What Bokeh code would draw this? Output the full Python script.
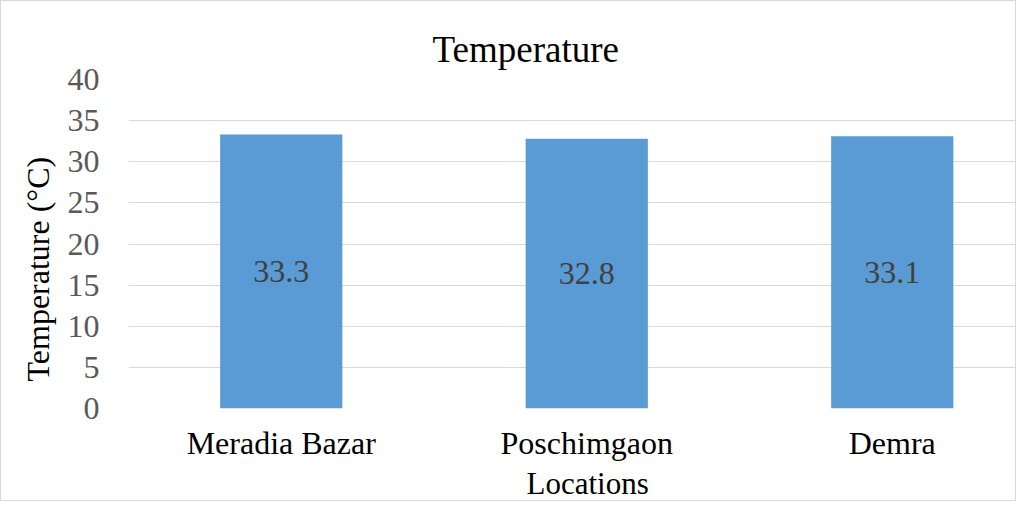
from bokeh.plotting import figure
from bokeh.models import Range1d, FixedTicker, Title
from bokeh.embed import file_html
from bokeh.resources import INLINE
from bokeh.core.properties import value
import numpy as np

locations = ["Meradia Bazar", "Poschimgaon", "Demra"]
temperatures = [33.3, 32.8, 33.1]
y_ticks = [0, 5, 10, 15, 20, 25, 30, 35, 40]
chart_title = "Temperature"
x_title = "Locations"
y_title = "Temperature (°C)"

FONT = "Liberation Serif"
xs = list(np.arange(len(locations)) + 0.5)

p = figure(width=1016, height=501, output_backend="svg", toolbar_location=None,
           x_range=Range1d(0, 889 / 305.5), y_range=Range1d(0, 40),
           min_border_left=127, min_border_right=0, min_border_top=78, min_border_bottom=94)
p.outline_line_color = None
p.background_fill_color = "white"
p.border_fill_color = "white"
p.styles = {"border": "1px solid #d9d9d9"}

p.title.text = chart_title
p.title.text_font = FONT
p.title.text_font_size = "37px"
p.title.text_font_style = "normal"
p.title.text_color = "#000000"
p.title.align = "left"
p.title.offset = 304
p.title.standoff = 19

p.vbar(x=xs, top=temperatures, width=0.4, color="#5B9BD5", line_color=None)
p.text(x=xs, y=[t / 2 for t in temperatures], text=[f"{t:.1f}" for t in temperatures],
       text_font=value(FONT), text_font_size="32px", text_color="#404040",
       text_align="center", text_baseline="middle")

p.xgrid.grid_line_color = None
p.ygrid.grid_line_color = "#d9d9d9"
p.ygrid.grid_line_width = 1
p.yaxis.ticker = FixedTicker(ticks=y_ticks)
p.xaxis.ticker = FixedTicker(ticks=xs)
p.xaxis.major_label_overrides = {x: lab for x, lab in zip(xs, locations)}

for ax in (p.xaxis, p.yaxis):
    ax.axis_line_color = None
    ax.major_tick_line_color = None
    ax.minor_tick_line_color = None
    ax.major_label_text_font = FONT
    ax.major_label_text_font_size = "32px"
p.yaxis.major_label_text_color = "#595959"
p.yaxis.major_label_standoff = 23
p.xaxis.major_label_text_color = "#000000"
p.xaxis.major_label_standoff = 10

xt = Title(text=x_title, text_font=FONT, text_font_size="31px", text_font_style="normal",
           text_color="#000000", align="left", offset=398, standoff=0)
p.add_layout(xt, "below")
yt = Title(text=y_title, text_font=FONT, text_font_size="32px", text_font_style="normal",
           text_color="#000000", align="left", offset=27, standoff=18)
p.add_layout(yt, "left")

open("out.html", "w").write(file_html(p, INLINE))
